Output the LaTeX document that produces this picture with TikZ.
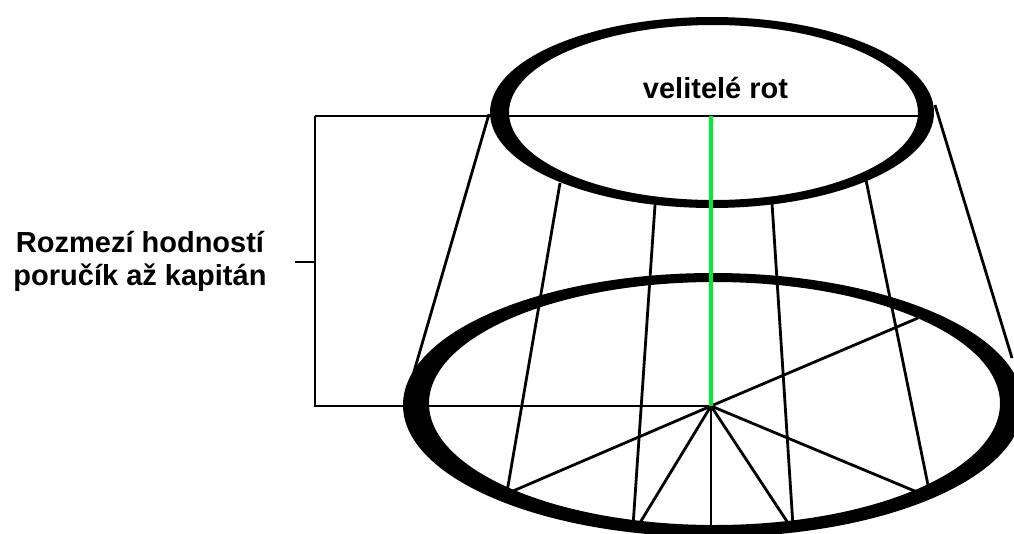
\documentclass[tikz,border=0pt]{standalone}
\usepackage{fontspec}
\setmainfont{Liberation Sans}
\definecolor{axisgreen}{RGB}{0,238,50}
\tikzset{
  thinline/.style={line width=2.8pt, black},
  hairline/.style={line width=2.2pt, black},
  ring/.style={fill=black, even odd rule},
  greenline/.style={line width=4pt, axisgreen},
  lbl/.style={font=\bfseries\fontsize{29}{33}\selectfont, inner sep=0pt, anchor=base}
}
\begin{document}
\begin{tikzpicture}[x=1pt,y=-1pt]
\useasboundingbox (0,0) rectangle (1014,533);
\clip (0,0) rectangle (1014,533);
% key points
\coordinate (C) at (711,406);
\coordinate (TL) at (315,116);
\coordinate (TR) at (920,116);
\coordinate (BL) at (315,406);
\coordinate (tick) at (295,262);
\coordinate (tickR) at (315,262);
\coordinate (G) at (711,116);
% cone lines: top ring to bottom ring
\coordinate (t1) at (489,114);  \coordinate (b1) at (413,375);
\coordinate (t2) at (560,183);  \coordinate (b2) at (507,492);
\coordinate (t3) at (655,205);  \coordinate (b3) at (633,526);
\coordinate (t5) at (772,203);  \coordinate (b5) at (793,526);
\coordinate (t6) at (866,180);  \coordinate (b6) at (929,490);
\coordinate (t7) at (935,105);  \coordinate (b7) at (1012,358);
% spoke ends
\coordinate (s1) at (918,318);
\coordinate (s2) at (506,494);
\coordinate (s3) at (638,526);
\coordinate (s4) at (711,528);
\coordinate (s5) at (790,526);
\coordinate (s6) at (917,492);

\foreach \i in {1,2,3,5,6,7} \draw[thinline] (t\i) -- (b\i);
\foreach \i in {1,...,6} \draw[thinline] (C) -- (s\i);
\draw[hairline] (TL) -- (TR);
\draw[hairline] (TL) -- (BL) -- (C);
\draw[hairline] (tick) -- (tickR);

% rings
\fill[ring] (712,112.5) ellipse [x radius=222, y radius=95.5]
            (713.5,112.5) ellipse [x radius=204.5, y radius=87.5];
\fill[ring] (713,405) ellipse [x radius=310, y radius=132]
            (714.5,403.5) ellipse [x radius=285.5, y radius=121.5];

\draw[greenline] (G) -- (C);

\node[lbl] (top) at (715.5,98) {velitelé rot};
\node[lbl] (l1) at (140,252) {Rozmezí hodností};
\node[lbl] (l2) at (140,285) {poručík až kapitán};
\end{tikzpicture}
\end{document}
